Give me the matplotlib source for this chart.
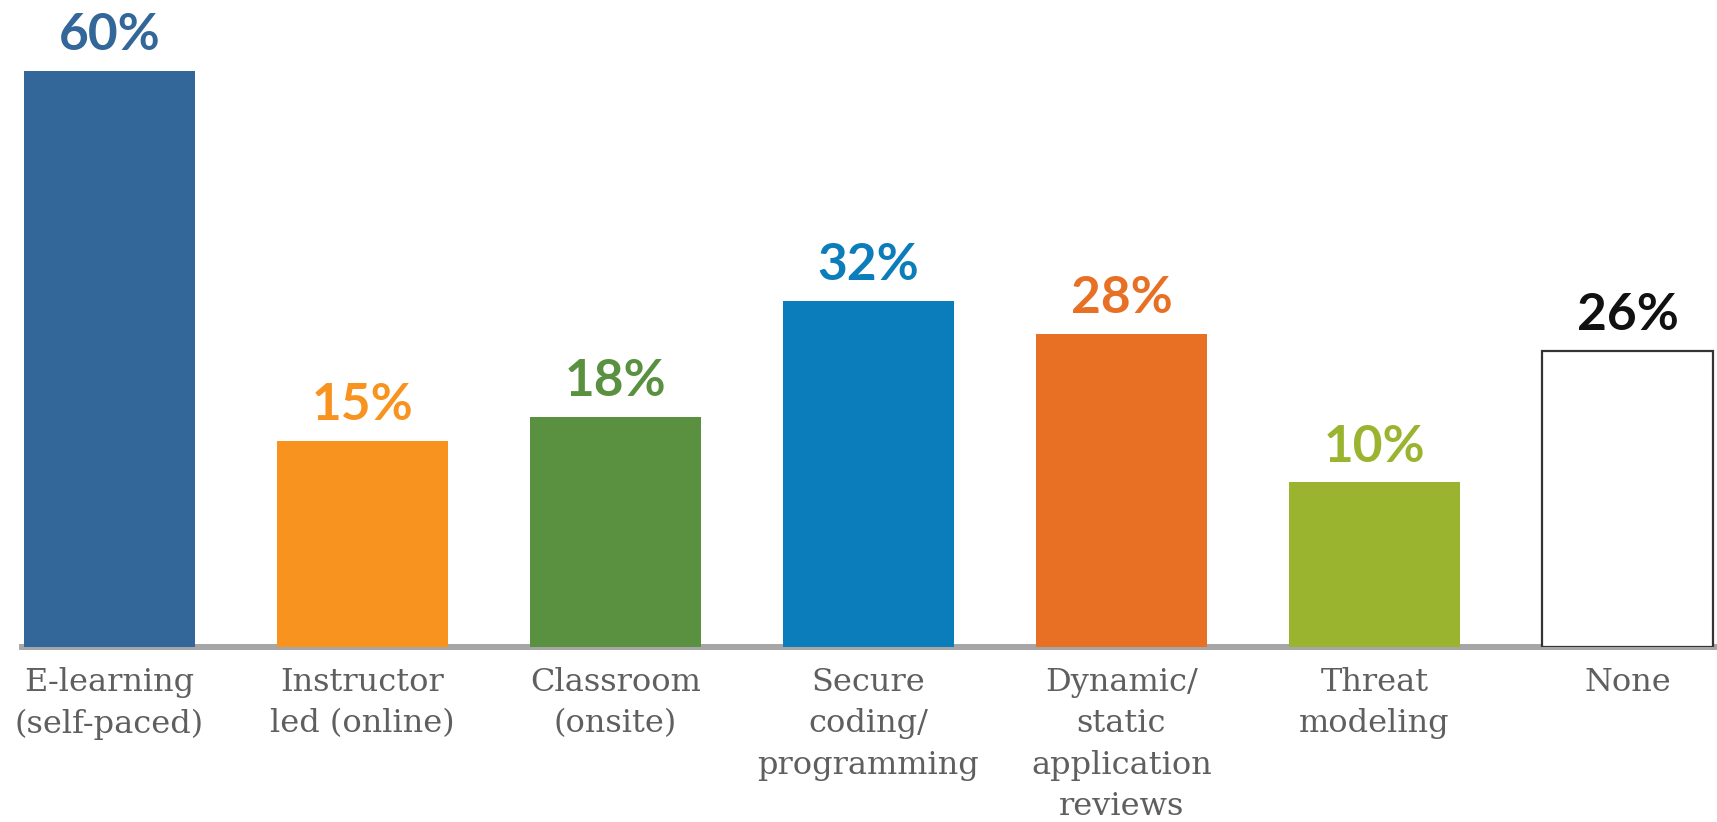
import numpy as np
import matplotlib.pyplot as plt

# training types and share of respondents
categories = ["E-learning\n(self-paced)", "Instructor\nled (online)", "Classroom\n(onsite)",
              "Secure\ncoding/\nprogramming", "Dynamic/\nstatic\napplication\nreviews",
              "Threat\nmodeling", "None"]
values = [60, 15, 18, 32, 28, 10, 26]
bar_colors = ["#336699", "#f7931e", "#5a9141", "#0b7dba", "#e87024", "#9ab42f", "#ffffff"]
label_colors = ["#336699", "#f7931e", "#5a9141", "#0b7dba", "#e87024", "#9ab42f", "#111111"]

base = -10  # value axis starts below zero

fig = plt.figure(figsize=(17.17, 8.22), dpi=100)
ax = fig.add_axes([0.0128, 0.2129, 0.9872, 0.7871])

x = np.arange(len(values))
heights = np.array(values) - base
bars = ax.bar(x, heights, bottom=base, width=0.676, color=bar_colors, zorder=3)
bars[-1].set_edgecolor("#333333")
bars[-1].set_linewidth(1.6)

for i, v in enumerate(values):
    ax.annotate(f"{v}%", (x[i], v), xytext=(0, 15), textcoords="offset points",
                ha="center", va="baseline", fontsize=37, fontweight="bold",
                family="Lato", color=label_colors[i])
    ax.annotate(categories[i], (x[i], base), xytext=(0, -14.5), textcoords="offset points",
                ha="center", va="top", fontsize=23, family="DejaVu Serif",
                color="#5f5f5f", linespacing=1.43, annotation_clip=False)

ax.set_xlim(-0.346, 6.354)
ax.set_ylim(base, 68.6)
for s in ["top", "right", "left"]:
    ax.spines[s].set_visible(False)
ax.spines["bottom"].set_color("#a6a6a6")
ax.spines["bottom"].set_linewidth(4.3)
ax.set_xticks([])
ax.set_yticks([])

fig.savefig("out.png", dpi=100)
